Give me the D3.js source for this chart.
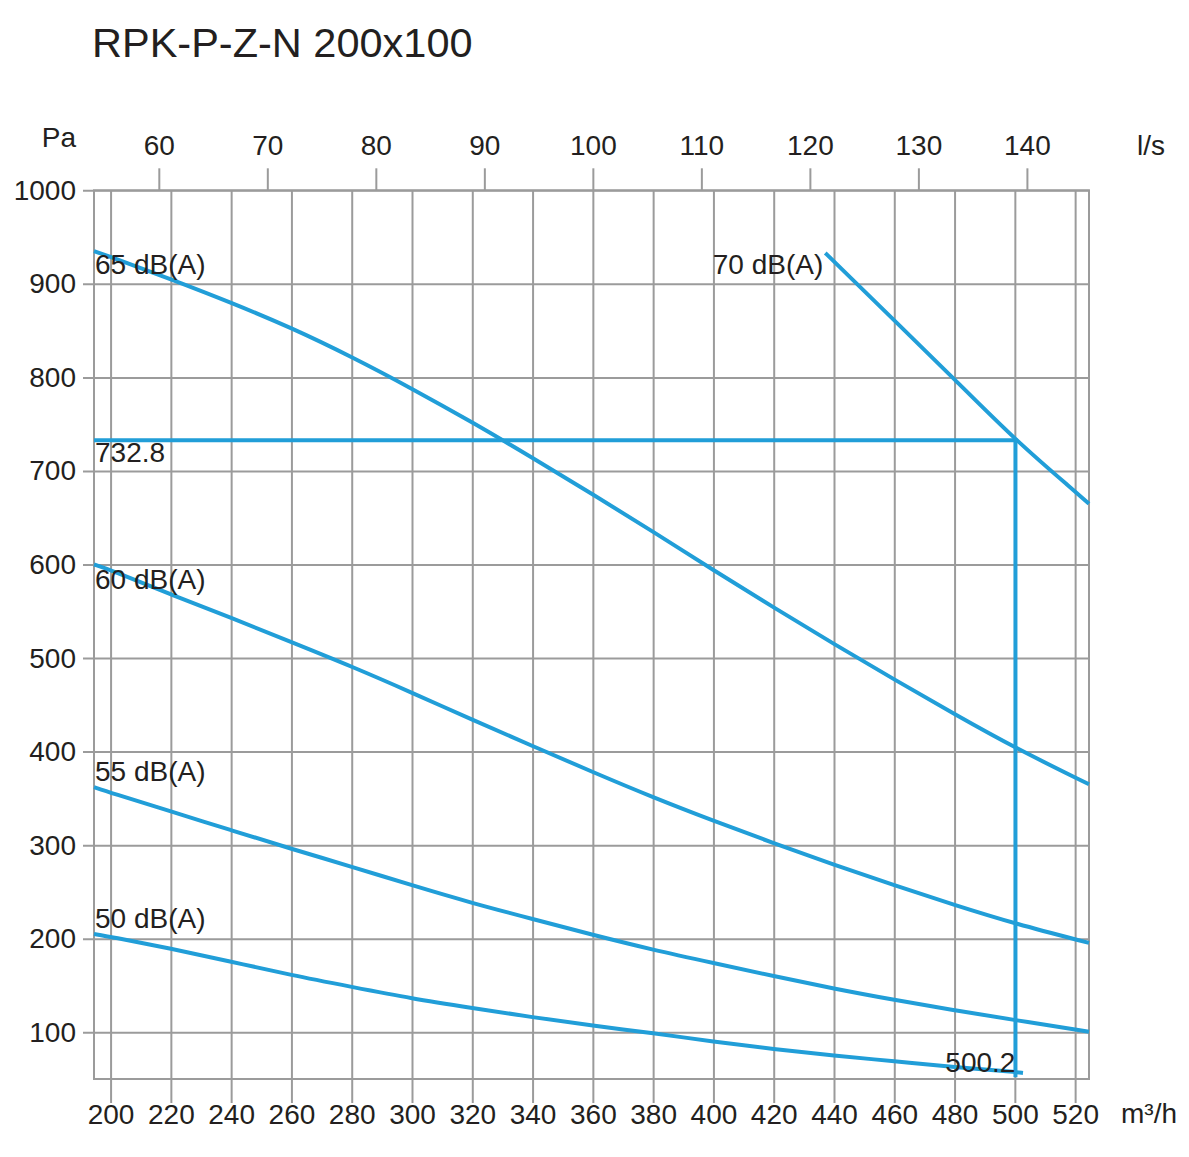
<!DOCTYPE html>
<html>
<head>
<meta charset="utf-8">
<script src="https://cdn.jsdelivr.net/npm/d3@7"></script>
<style>
  body { margin: 0; background: #fff; }
  text { font-family: "Liberation Sans", Arial, Helvetica, sans-serif; fill: #231f20; }
</style>
</head>
<body>
<svg id="chart"></svg>
<script>
var title = 'RPK-P-Z-N 200x100';

// flow m3/h, pressure Pa
var curve50 = [[194.5,205],[200,202],[220,189.5],[240,175.5],[260,161],[280,148.5],[300,136],[320,126],[340,116],
  [360,107],[380,99],[400,90],[420,82],[440,75],[460,69],[480,62.5],[500,57.5],[502.7,56.5]];
var curve55 = [[194.5,362],[200,356],[220,336],[240,316],[260,296],[280,277],[300,257],[320,238],[340,221],
  [360,204],[380,188],[400,174],[420,160],[440,146.5],[460,134.5],[480,123.5],[500,113],[524.6,100.5]];
var curve60 = [[194.5,600],[200,594],[220,568],[240,543],[260,517],[280,491],[300,463],[320,434],[340,406],
  [360,378],[380,351],[400,326],[420,302],[440,279],[460,257],[480,236],[500,216],[524.6,195.5]];
var curve65 = [[194.5,935],[200,929],[220,905],[240,880],[260,853],[280,822],[300,788],[320,752],[340,714],
  [360,675],[380,635],[400,594],[420,554],[440,515],[460,477],[480,440],[500,404],[524.6,365]];
var curve70 = [[437.1,933],[440,924],[460,861],[480,798],[500.2,732.8],[520,678],[524.6,665]];

var curveNames = ['50 dB(A)', '55 dB(A)', '60 dB(A)', '65 dB(A)', '70 dB(A)'];
var curves = [curve50, curve55, curve60, curve65, curve70];

var dutyFlow = 500.2, dutyPa = 732.8, dutyBottom = 52;

var flowTicks = [200,220,240,260,280,300,320,340,360,380,400,420,440,460,480,500,520];
var lsTicks = [60,70,80,90,100,110,120,130,140];
var paTicks = [100,200,300,400,500,600,700,800,900,1000];
var flowDomain = [194.5, 524.6];
var paDomain = [50, 1000];

var width = 1189, height = 1157,
    plotLeft = 94, plotRight = 1089, plotTop = 190.3, plotBottom = 1079,
    blue = '#219ed8', grey = '#9b9b9b', fs = 28;

var svg = d3.select('#chart')
  .attr('width', width)
  .attr('height', height);

var x = d3.scaleLinear().domain(flowDomain).range([plotLeft, plotRight]);
var xl = d3.scaleLinear().domain(flowDomain.map(d => d / 3.6)).range([plotLeft, plotRight]);
var y = d3.scaleLinear().domain(paDomain).range([plotBottom, plotTop]);

svg.append('text')
  .attr('x', 92)
  .attr('y', 57)
  .attr('font-size', 41.5)
  .text(title);

// horizontal grid + Pa labels
svg.append('g')
  .attr('transform', 'translate(83,0)')
  .call(d3.axisLeft(y).tickValues(paTicks).tickFormat(d3.format('d'))
    .tickSize(-(plotRight - 83)).tickPadding(7))
  .call(g => g.select('.domain').remove());

// vertical grid + m3/h labels
svg.append('g')
  .attr('transform', 'translate(0,' + plotTop + ')')
  .call(d3.axisBottom(x).tickValues(flowTicks).tickFormat(d3.format('d'))
    .tickSize(1103 - plotTop).tickPadding(1))
  .call(g => g.select('.domain').remove());

// l/s ticks on top
svg.append('g')
  .attr('transform', 'translate(0,' + plotTop + ')')
  .call(d3.axisTop(xl).tickValues(lsTicks).tickFormat(d3.format('d'))
    .tickSize(22).tickPadding(13))
  .call(g => g.select('.domain').remove());

svg.selectAll('.tick line')
  .attr('stroke', grey)
  .attr('stroke-width', 2);
svg.selectAll('.tick text')
  .attr('font-size', fs)
  .attr('fill', '#231f20')
  .style('font-family', '"Liberation Sans", Arial, Helvetica, sans-serif');

svg.append('rect')
  .attr('x', plotLeft)
  .attr('y', plotTop)
  .attr('width', plotRight - plotLeft)
  .attr('height', plotBottom - plotTop)
  .attr('fill', 'none')
  .attr('stroke', grey)
  .attr('stroke-width', 2);

// units
svg.append('text').attr('x', 76).attr('y', 147).attr('font-size', fs).attr('text-anchor', 'end').text('Pa');
svg.append('text').attr('x', 1137).attr('y', 155).attr('font-size', fs).text('l/s');
svg.append('text').attr('x', 1121).attr('y', 1123).attr('font-size', fs).text('m³/h');

var line = d3.line()
  .x(d => x(d[0]))
  .y(d => y(d[1]))
  .curve(d3.curveBasis);

svg.selectAll('path.curve')
  .data(curves)
  .enter()
  .append('path')
    .attr('class', 'curve')
    .attr('d', line)
    .attr('fill', 'none')
    .attr('stroke', blue)
    .attr('stroke-width', 4);

// duty point lines
svg.append('path')
  .attr('d', d3.line()([[x(flowDomain[0]), y(dutyPa)], [x(dutyFlow), y(dutyPa)], [x(dutyFlow), y(dutyBottom)]]))
  .attr('fill', 'none')
  .attr('stroke', blue)
  .attr('stroke-width', 4);

// curve labels: pressure at baseline, left edge except 70 dB
var labelPa = [211, 368.6, 574.3, 911, 911];
svg.selectAll('text.curve-label')
  .data(curveNames)
  .enter()
  .append('text')
    .attr('class', 'curve-label')
    .attr('font-size', fs)
    .attr('x', (d, i) => i == 4 ? x(curve70[0][0]) - 2 : plotLeft + 1)
    .attr('y', (d, i) => y(labelPa[i]))
    .attr('text-anchor', (d, i) => i == 4 ? 'end' : 'start')
    .text(d => d);

svg.append('text')
  .attr('x', plotLeft + 1)
  .attr('y', y(709.6))
  .attr('font-size', fs)
  .text(dutyPa);
svg.append('text')
  .attr('x', x(dutyFlow))
  .attr('y', y(57.6))
  .attr('font-size', fs)
  .attr('text-anchor', 'end')
  .text(dutyFlow);
</script>
</body>
</html>
